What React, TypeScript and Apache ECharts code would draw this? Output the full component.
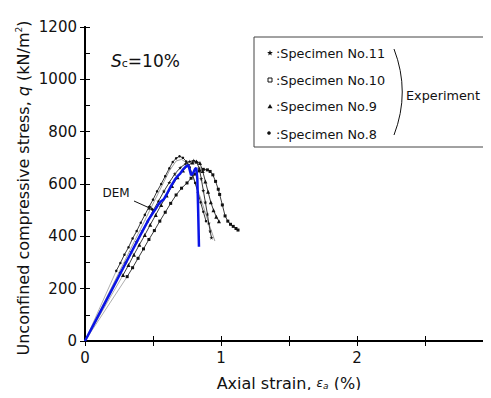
import React, { useEffect, useRef } from "react";
import * as echarts from "echarts";

const xTicks = [0, 1, 2, 3];
const yTicks = [0, 200, 400, 600, 800, 1000, 1200];

const dem: [number, number][] = [
  [0, 0], [0.1, 99], [0.2, 198], [0.3, 298], [0.4, 398], [0.47, 466], [0.5, 490],
  [0.52, 505], [0.54, 522], [0.56, 534], [0.58, 542], [0.6, 560], [0.63, 590],
  [0.66, 616], [0.68, 630], [0.7, 640], [0.72, 655], [0.745, 668], [0.76, 672],
  [0.77, 654], [0.78, 634], [0.795, 642], [0.81, 658], [0.818, 662], [0.826, 620],
  [0.832, 500], [0.838, 360],
];

const spec11: [number, number][] = [
  [0.26, 262], [0.3, 300], [0.34, 340], [0.38, 380], [0.42, 420], [0.46, 458],
  [0.5, 498], [0.54, 534], [0.58, 572], [0.62, 606], [0.66, 638], [0.7, 662],
  [0.74, 678], [0.77, 686], [0.8, 690], [0.82, 684], [0.84, 660], [0.855, 620],
  [0.87, 575], [0.885, 530], [0.9, 485], [0.91, 450], [0.92, 420], [0.93, 395],
];

const spec10: [number, number][] = [
  [0.31, 246], [0.35, 280], [0.39, 316], [0.43, 352], [0.47, 388], [0.51, 422],
  [0.55, 458], [0.59, 492], [0.63, 526], [0.67, 558], [0.71, 584], [0.75, 604],
  [0.78, 622], [0.81, 638], [0.84, 650], [0.87, 656], [0.9, 654], [0.92, 648],
  [0.94, 635], [0.96, 610], [0.98, 580], [0.99, 560], [1.01, 520], [1.03, 478],
  [1.05, 458], [1.07, 446], [1.09, 438], [1.11, 430], [1.125, 424],
];

const spec9: [number, number][] = [
  [0.28, 252], [0.32, 290], [0.36, 330], [0.4, 368], [0.44, 405], [0.48, 444],
  [0.52, 482], [0.56, 520], [0.6, 556], [0.64, 592], [0.68, 626], [0.72, 652],
  [0.76, 672], [0.79, 682], [0.82, 686], [0.845, 680], [0.865, 650], [0.885, 610],
  [0.905, 570], [0.925, 530], [0.945, 500], [0.965, 475], [0.985, 458],
];

const spec8: [number, number][] = [
  [0.23, 268], [0.26, 298], [0.29, 330], [0.32, 358], [0.35, 392], [0.38, 420],
  [0.41, 452], [0.44, 482], [0.47, 512], [0.5, 540], [0.53, 572], [0.56, 600],
  [0.59, 630], [0.62, 660], [0.645, 684], [0.67, 698], [0.695, 706], [0.72, 700],
  [0.745, 686], [0.77, 664], [0.79, 636], [0.81, 604], [0.83, 568], [0.85, 530],
  [0.87, 494], [0.89, 458],
];

const fit8: [number, number][] = [
  [0, 0], [0.62, 650], [0.67, 688], [0.71, 694], [0.75, 680], [0.8, 620],
  [0.86, 530], [0.91, 450], [0.955, 382],
];

const legendNames = [":Specimen No.11", ":Specimen No.10", ":Specimen No.9", ":Specimen No.8"];

const STAR = "path://M50,0 L61,35 L98,35 L68,57 L79,91 L50,70 L21,91 L32,57 L2,35 L39,35 Z";
const FONT = "DejaVu Sans, Arial, sans-serif";

function starPoints(cx: number, cy: number, r1: number, r2: number): number[][] {
  const pts: number[][] = [];
  for (let i = 0; i < 10; i++) {
    const r = i % 2 === 0 ? r1 : r2;
    const a = -Math.PI / 2 + (i * Math.PI) / 5;
    pts.push([cx + r * Math.cos(a), cy + r * Math.sin(a)]);
  }
  return pts;
}

export default function App() {
  const ref = useRef<HTMLDivElement>(null);
  useEffect(() => {
    if (!ref.current) return;
    const chart = echarts.init(ref.current, undefined, { renderer: "svg" });
    const expSeries = (data: [number, number][], symbol: string, size: number) => [
      {
        type: "line",
        data: [[0, 0], data[0]],
        symbol: "none",
        lineStyle: { color: "#999", width: 0.8 },
        z: 1,
      },
      {
        type: "line",
        data,
        symbol,
        symbolSize: size,
        showSymbol: true,
        lineStyle: { color: "#222", width: 0.9 },
        itemStyle: { color: "#111", borderWidth: 0 },
        z: 2,
      },
    ];
    const rows = [53, 80, 106.5, 134];
    chart.setOption({
      animation: false,
      grid: { left: 85, right: -2, top: 27, bottom: 57, outerBoundsMode: "none", containLabel: false },
      xAxis: [
        {
          type: "value",
          min: 0,
          max: 3,
          interval: 1,
          name: "Axial strain, {e|ε}{sub|a} (%)",
          nameLocation: "middle",
          nameGap: 34,
          nameTextStyle: {
            fontFamily: FONT,
            fontSize: 16,
            color: "#111",
            rich: {
              e: { fontFamily: FONT, fontSize: 12, fontStyle: "italic", color: "#111" },
              sub: { fontFamily: FONT, fontSize: 9, fontStyle: "italic", color: "#111", padding: [5, 0, 0, 0] },
            },
          },
          axisLine: { lineStyle: { color: "#000", width: 2 } },
          axisTick: { inside: true, length: 5, lineStyle: { color: "#000", width: 1 } },
          minorTick: { show: true, splitNumber: 2, length: 5, lineStyle: { color: "#000", width: 1 } },
          axisLabel: {
            fontFamily: FONT,
            fontSize: 15,
            color: "#111",
            margin: 9,
            formatter: (v: number) => (xTicks.includes(v) ? String(v) : ""),
          },
          splitLine: { show: false },
        },
        {
          type: "value",
          position: "top",
          min: 0,
          max: 3,
          interval: 0.5,
          axisLine: { show: true, lineStyle: { color: "#000", width: 2 } },
          axisTick: { show: true, inside: true, length: 5, lineStyle: { color: "#000", width: 1 } },
          axisLabel: { show: false },
          splitLine: { show: false },
        },
      ],
      yAxis: [
        {
          type: "value",
          min: 0,
          max: 1200,
          interval: 200,
          axisLine: { show: true, lineStyle: { color: "#000", width: 2 } },
          axisTick: { show: true, inside: true, length: 5, lineStyle: { color: "#000", width: 1 } },
          minorTick: { show: true, splitNumber: 2, length: 5, lineStyle: { color: "#000", width: 1 } },
          axisLabel: {
            fontFamily: FONT,
            fontSize: 15,
            color: "#111",
            margin: 8,
            formatter: (v: number) => (yTicks.includes(v) ? String(v) : ""),
          },
          splitLine: { show: false },
        },
        {
          type: "value",
          position: "right",
          min: 0,
          max: 1200,
          interval: 200,
          axisLine: { show: true, lineStyle: { color: "#000", width: 2 } },
          axisTick: { show: true, inside: true, length: 5, lineStyle: { color: "#000", width: 1 } },
          axisLabel: { show: false },
          splitLine: { show: false },
        },
      ],
      series: [
        ...expSeries(spec8, "circle", 2.5),
        {
          type: "line",
          data: fit8,
          symbol: "none",
          lineStyle: { color: "#888", width: 0.8 },
          z: 1,
        },
        ...expSeries(spec9, "triangle", 4),
        ...expSeries(spec10, "rect", 3),
        ...expSeries(spec11, STAR, 4),
        {
          type: "line",
          data: dem,
          symbol: "none",
          lineStyle: { color: "#0a14e6", width: 2.5 },
          z: 5,
        },
      ],
      graphic: [
        {
          type: "text",
          x: 23,
          y: 188,
          rotation: Math.PI / 2,
          style: {
            text: "Unconfined compressive stress, {i|q} (kN/m{sup|2})",
            fontFamily: FONT,
            fontSize: 16,
            fill: "#111",
            align: "center",
            verticalAlign: "middle",
            rich: {
              i: { fontFamily: FONT, fontSize: 16, fontStyle: "italic", fill: "#111" },
              sup: { fontFamily: FONT, fontSize: 9, fill: "#111", padding: [0, 0, 8, 0] },
            },
          },
        },
        {
          type: "text",
          left: 111,
          top: 52,
          style: {
            text: "{s|S}{c|c}{n|=10%}",
            rich: {
              s: { fontFamily: FONT, fontSize: 17, fontStyle: "italic", fill: "#111" },
              c: { fontFamily: FONT, fontSize: 11, fill: "#111", padding: [5, 0, 0, 0] },
              n: { fontFamily: FONT, fontSize: 17, fill: "#111" },
            },
          },
        },
        {
          type: "text",
          x: 116,
          y: 193,
          style: {
            text: "DEM",
            fontFamily: FONT,
            fontSize: 12,
            fill: "#111",
            align: "center",
            verticalAlign: "middle",
          },
        },
        {
          type: "line",
          shape: { x1: 134, y1: 201, x2: 154, y2: 210 },
          style: { stroke: "#111", lineWidth: 1 },
        },
        {
          type: "polygon",
          shape: { points: [[155, 210.5], [147.5, 209.5], [149.5, 205]] },
          style: { fill: "#111" },
        },
        {
          type: "rect",
          shape: { x: 254, y: 37, width: 231, height: 110 },
          style: { fill: "#fff", stroke: "#444", lineWidth: 1 },
          z: 10,
        },
        {
          type: "polygon",
          shape: { points: starPoints(270, rows[0], 3, 1.3) },
          style: { fill: "#111" },
          z: 11,
        },
        {
          type: "rect",
          shape: { x: 268, y: rows[1] - 2, width: 4, height: 4 },
          style: { fill: "#fff", stroke: "#111", lineWidth: 1 },
          z: 11,
        },
        {
          type: "polygon",
          shape: { points: [[270, rows[2] - 2.5], [272.5, rows[2] + 1.8], [267.5, rows[2] + 1.8]] },
          style: { fill: "#111" },
          z: 11,
        },
        {
          type: "circle",
          shape: { cx: 269, cy: rows[3] - 1, r: 1.8 },
          style: { fill: "#111" },
          z: 11,
        },
        ...legendNames.map((t, i) => ({
          type: "text",
          x: 276,
          y: rows[i],
          style: {
            text: t,
            fontFamily: FONT,
            fontSize: 12.8,
            fill: "#111",
            verticalAlign: "middle",
          },
          z: 11,
        })),
        {
          type: "bezierCurve",
          shape: { x1: 394, y1: 49, x2: 394, y2: 135, cpx1: 410.5, cpy1: 92 },
          style: { stroke: "#111", lineWidth: 1, fill: "none" },
          z: 11,
        },
        {
          type: "text",
          x: 406,
          y: 95,
          style: {
            text: "Experiment",
            fontFamily: FONT,
            fontSize: 12.8,
            fill: "#111",
            verticalAlign: "middle",
          },
          z: 11,
        },
      ],
    });
    return () => chart.dispose();
  }, []);
  return <div ref={ref} style={{ width: 491, height: 398, margin: -8 }} />;
}
